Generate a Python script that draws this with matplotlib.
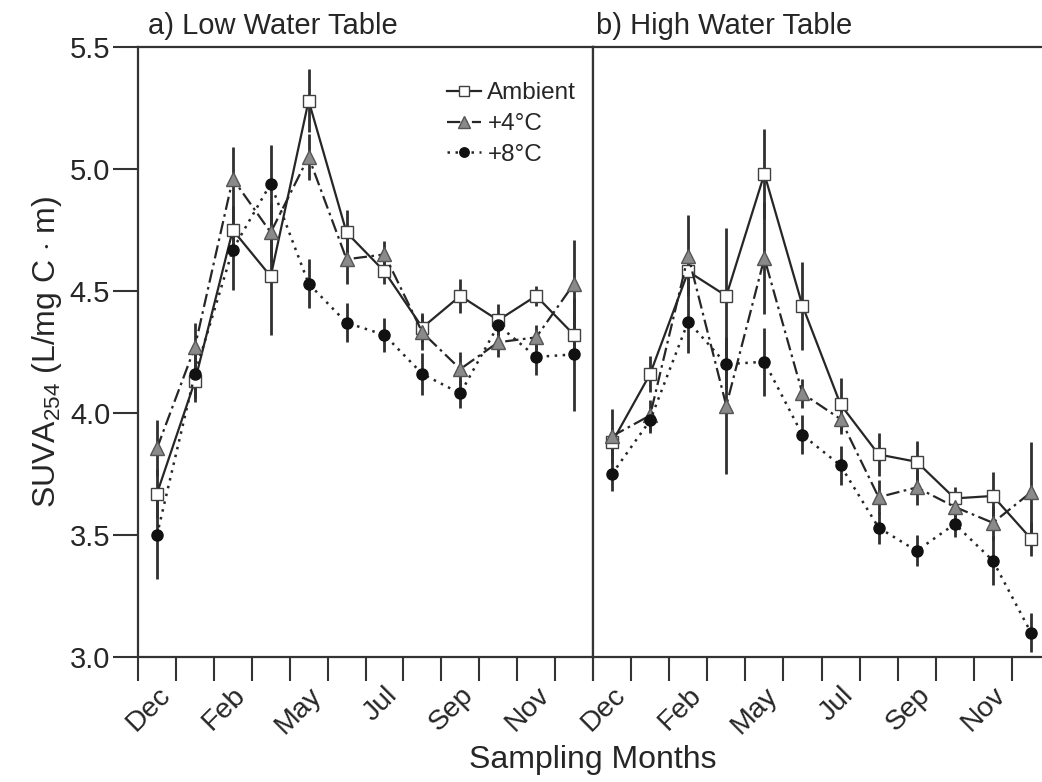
import matplotlib
matplotlib.use('Agg')
import matplotlib.pyplot as plt
import numpy as np

plt.rcParams['font.family'] = ['Liberation Sans', 'DejaVu Sans']
plt.rcParams['mathtext.fontset'] = 'custom'
plt.rcParams['mathtext.rm'] = 'Liberation Sans'
plt.rcParams['mathtext.it'] = 'Liberation Sans:italic'

# sampling order, one value per month (12 per panel)
month_labels = ['Dec', 'Feb', 'May', 'Jul', 'Sep', 'Nov']
label_slots = [0, 2, 4, 6, 8, 10]

# a) low water table
low_amb = [3.67, 4.13, 4.75, 4.56, 5.28, 4.74, 4.58, 4.35, 4.48, 4.38, 4.48, 4.32]
low_amb_err = [0.10, 0.085, 0.10, 0.24, 0.13, 0.09, 0.05, 0.06, 0.07, 0.065, 0.04, 0.08]
low_p4 = [3.855, 4.27, 4.96, 4.74, 5.05, 4.63, 4.65, 4.33, 4.18, 4.29, 4.31, 4.53]
low_p4_err = [0.115, 0.10, 0.13, 0.12, 0.095, 0.10, 0.055, 0.07, 0.07, 0.06, 0.05, 0.18]
low_p8 = [3.50, 4.16, 4.67, 4.94, 4.53, 4.37, 4.32, 4.16, 4.08, 4.36, 4.23, 4.24]
low_p8_err = [0.18, 0.10, 0.165, 0.16, 0.10, 0.08, 0.07, 0.085, 0.06, 0.05, 0.075, 0.23]

# b) high water table
high_amb = [3.88, 4.16, 4.58, 4.48, 4.98, 4.44, 4.035, 3.83, 3.80, 3.65, 3.66, 3.485]
high_amb_err = [0.06, 0.075, 0.08, 0.28, 0.185, 0.18, 0.11, 0.09, 0.085, 0.045, 0.10, 0.07]
high_p4 = [3.905, 3.99, 4.645, 4.03, 4.635, 4.08, 3.975, 3.655, 3.695, 3.615, 3.55, 3.675]
high_p4_err = [0.11, 0.065, 0.165, 0.28, 0.23, 0.06, 0.06, 0.07, 0.07, 0.05, 0.07, 0.205]
high_p8 = [3.75, 3.97, 4.375, 4.20, 4.21, 3.91, 3.785, 3.53, 3.435, 3.545, 3.395, 3.10]
high_p8_err = [0.07, 0.05, 0.13, 0.10, 0.14, 0.08, 0.08, 0.065, 0.063, 0.055, 0.10, 0.08]

ink = '#262626'
styles = {
    'Ambient': dict(marker='s', mfc='white', mec='#404040', ms=8.5, ls='-', lw=1.6),
    '+4°C': dict(marker='^', mfc='#8a8a8a', mec='#555555', ms=9.5, ls=(0, (6, 2, 1.2, 2)), lw=1.6),
    '+8°C': dict(marker='o', mfc='#111111', mec='#111111', ms=8, ls=(0, (1, 2.2)), lw=1.8),
}

fig = plt.figure(figsize=(10.42, 7.82), dpi=100)
ax1 = fig.add_axes([138 / 1042, 125 / 782, 455 / 1042, 610 / 782])
ax2 = fig.add_axes([593 / 1042, 125 / 782, 457 / 1042, 610 / 782])

x = np.arange(12) + 0.5

panels = [
    (ax1, 'a) Low Water Table', [(low_amb, low_amb_err), (low_p4, low_p4_err), (low_p8, low_p8_err)]),
    (ax2, 'b) High Water Table', [(high_amb, high_amb_err), (high_p4, high_p4_err), (high_p8, high_p8_err)]),
]

for ax, title, series in panels:
    for (name, st), (vals, err) in zip(styles.items(), series):
        ax.errorbar(x, vals, yerr=err, fmt='none', ecolor='#303030', elinewidth=2, capsize=0, zorder=2)
        ax.plot(x, vals, color=ink, label=name, zorder=3, **st)

    ax.set_xlim(0, 12)
    ax.set_ylim(3.0, 5.5)
    ax.set_xticks(np.arange(13))
    ax.set_xticklabels([])
    ax.set_xticks(x[label_slots], minor=True)
    ax.set_xticklabels(month_labels, minor=True, rotation=45, ha='right', va='top',
                       rotation_mode='anchor', fontsize=20.5, color=ink)
    ax.tick_params(axis='x', which='major', direction='out', length=17, width=1.5, color='#333333')
    ax.tick_params(axis='x', which='minor', length=0, pad=18)
    for sp in ax.spines.values():
        sp.set_linewidth(1.6)
        sp.set_color('#333333')
    ax.text(0.022 if ax is ax1 else 0.007, 1.012, title, transform=ax.transAxes,
            ha='left', va='bottom', fontsize=21, color=ink)

ax1.set_yticks([3.0, 3.5, 4.0, 4.5, 5.0, 5.5])
ax1.set_yticklabels(['3.0', '3.5', '4.0', '4.5', '5.0', '5.5'], fontsize=21, color=ink)
ax1.tick_params(axis='y', direction='out', length=18, width=1.5, color='#333333', pad=2)
ax2.set_yticks([])
ax2.spines['right'].set_visible(False)

ax1.set_ylabel('SUVA$_{254}$ (L/mg C $\\cdot$ m)', fontsize=23, color=ink, labelpad=4)
fig.text(593 / 1042, 14 / 782, 'Sampling Months', ha='center', va='baseline', fontsize=23, color=ink)

leg = ax1.legend(loc='upper right', bbox_to_anchor=(0.99, 0.962), frameon=False, fontsize=17.5,
                 handlelength=1.4, handletextpad=0.25, labelspacing=0.36, borderpad=0,
                 labelcolor=ink)
for h in leg.legend_handles:
    h.set_markersize(h.get_markersize() * 0.85)

fig.savefig('out.png', dpi=100)
